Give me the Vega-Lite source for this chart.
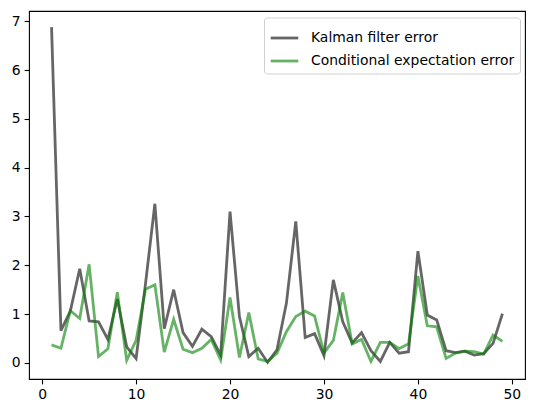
{
  "$schema": "https://vega.github.io/schema/vega-lite/v6.json",
  "width": 496,
  "height": 368,
  "autosize": {"type": "none"},
  "padding": {"left": 29, "top": 11, "right": 9, "bottom": 34},
  "background": "white",
  "config": {
    "view": {"stroke": "black", "strokeWidth": 1.1},
    "font": "DejaVu Sans",
    "axis": {
      "grid": false,
      "domain": false,
      "tickColor": "black",
      "tickWidth": 1.1,
      "tickSize": 4.9,
      "labelPadding": 4,
      "labelFont": "DejaVu Sans",
      "labelFontSize": 13.9,
      "labelColor": "black",
      "title": null
    }
  },
  "datasets": {
    "err": [
      {"x":1,"series":"Kalman filter error","value":6.88},
      {"x":2,"series":"Kalman filter error","value":0.66},
      {"x":3,"series":"Kalman filter error","value":1.06},
      {"x":4,"series":"Kalman filter error","value":1.93},
      {"x":5,"series":"Kalman filter error","value":0.86},
      {"x":6,"series":"Kalman filter error","value":0.84},
      {"x":7,"series":"Kalman filter error","value":0.48},
      {"x":8,"series":"Kalman filter error","value":1.31},
      {"x":9,"series":"Kalman filter error","value":0.33},
      {"x":10,"series":"Kalman filter error","value":0.09},
      {"x":11,"series":"Kalman filter error","value":1.62},
      {"x":12,"series":"Kalman filter error","value":3.26},
      {"x":13,"series":"Kalman filter error","value":0.7},
      {"x":14,"series":"Kalman filter error","value":1.5},
      {"x":15,"series":"Kalman filter error","value":0.62},
      {"x":16,"series":"Kalman filter error","value":0.34},
      {"x":17,"series":"Kalman filter error","value":0.69},
      {"x":18,"series":"Kalman filter error","value":0.54},
      {"x":19,"series":"Kalman filter error","value":0.16},
      {"x":20,"series":"Kalman filter error","value":3.1},
      {"x":21,"series":"Kalman filter error","value":0.95},
      {"x":22,"series":"Kalman filter error","value":0.13},
      {"x":23,"series":"Kalman filter error","value":0.3},
      {"x":24,"series":"Kalman filter error","value":0.01},
      {"x":25,"series":"Kalman filter error","value":0.27},
      {"x":26,"series":"Kalman filter error","value":1.22},
      {"x":27,"series":"Kalman filter error","value":2.9},
      {"x":28,"series":"Kalman filter error","value":0.52},
      {"x":29,"series":"Kalman filter error","value":0.6},
      {"x":30,"series":"Kalman filter error","value":0.15},
      {"x":31,"series":"Kalman filter error","value":1.7},
      {"x":32,"series":"Kalman filter error","value":0.84},
      {"x":33,"series":"Kalman filter error","value":0.41},
      {"x":34,"series":"Kalman filter error","value":0.62},
      {"x":35,"series":"Kalman filter error","value":0.25},
      {"x":36,"series":"Kalman filter error","value":0.03},
      {"x":37,"series":"Kalman filter error","value":0.42},
      {"x":38,"series":"Kalman filter error","value":0.2},
      {"x":39,"series":"Kalman filter error","value":0.23},
      {"x":40,"series":"Kalman filter error","value":2.29},
      {"x":41,"series":"Kalman filter error","value":0.98},
      {"x":42,"series":"Kalman filter error","value":0.88},
      {"x":43,"series":"Kalman filter error","value":0.25},
      {"x":44,"series":"Kalman filter error","value":0.21},
      {"x":45,"series":"Kalman filter error","value":0.24},
      {"x":46,"series":"Kalman filter error","value":0.16},
      {"x":47,"series":"Kalman filter error","value":0.19},
      {"x":48,"series":"Kalman filter error","value":0.4},
      {"x":49,"series":"Kalman filter error","value":1.01},
      {"x":1,"series":"Conditional expectation error","value":0.37},
      {"x":2,"series":"Conditional expectation error","value":0.3},
      {"x":3,"series":"Conditional expectation error","value":1.07},
      {"x":4,"series":"Conditional expectation error","value":0.91},
      {"x":5,"series":"Conditional expectation error","value":2.02},
      {"x":6,"series":"Conditional expectation error","value":0.13},
      {"x":7,"series":"Conditional expectation error","value":0.29},
      {"x":8,"series":"Conditional expectation error","value":1.45},
      {"x":9,"series":"Conditional expectation error","value":0.05},
      {"x":10,"series":"Conditional expectation error","value":0.46},
      {"x":11,"series":"Conditional expectation error","value":1.51},
      {"x":12,"series":"Conditional expectation error","value":1.6},
      {"x":13,"series":"Conditional expectation error","value":0.22},
      {"x":14,"series":"Conditional expectation error","value":0.89},
      {"x":15,"series":"Conditional expectation error","value":0.28},
      {"x":16,"series":"Conditional expectation error","value":0.21},
      {"x":17,"series":"Conditional expectation error","value":0.3},
      {"x":18,"series":"Conditional expectation error","value":0.48},
      {"x":19,"series":"Conditional expectation error","value":0.06},
      {"x":20,"series":"Conditional expectation error","value":1.34},
      {"x":21,"series":"Conditional expectation error","value":0.11},
      {"x":22,"series":"Conditional expectation error","value":1.03},
      {"x":23,"series":"Conditional expectation error","value":0.08},
      {"x":24,"series":"Conditional expectation error","value":0.03},
      {"x":25,"series":"Conditional expectation error","value":0.2},
      {"x":26,"series":"Conditional expectation error","value":0.64},
      {"x":27,"series":"Conditional expectation error","value":0.95},
      {"x":28,"series":"Conditional expectation error","value":1.06},
      {"x":29,"series":"Conditional expectation error","value":0.96},
      {"x":30,"series":"Conditional expectation error","value":0.2},
      {"x":31,"series":"Conditional expectation error","value":0.46},
      {"x":32,"series":"Conditional expectation error","value":1.44},
      {"x":33,"series":"Conditional expectation error","value":0.39},
      {"x":34,"series":"Conditional expectation error","value":0.48},
      {"x":35,"series":"Conditional expectation error","value":0.03},
      {"x":36,"series":"Conditional expectation error","value":0.42},
      {"x":37,"series":"Conditional expectation error","value":0.42},
      {"x":38,"series":"Conditional expectation error","value":0.29},
      {"x":39,"series":"Conditional expectation error","value":0.39},
      {"x":40,"series":"Conditional expectation error","value":1.78},
      {"x":41,"series":"Conditional expectation error","value":0.76},
      {"x":42,"series":"Conditional expectation error","value":0.74},
      {"x":43,"series":"Conditional expectation error","value":0.09},
      {"x":44,"series":"Conditional expectation error","value":0.2},
      {"x":45,"series":"Conditional expectation error","value":0.24},
      {"x":46,"series":"Conditional expectation error","value":0.23},
      {"x":47,"series":"Conditional expectation error","value":0.18},
      {"x":48,"series":"Conditional expectation error","value":0.57},
      {"x":49,"series":"Conditional expectation error","value":0.44}
    ]
  },
  "data": {"name": "err"},
  "encoding": {
    "x": {
      "field": "x",
      "type": "quantitative",
      "scale": {"domain": [-1.4, 51.4], "nice": false, "zero": false},
      "axis": {"values": [0, 10, 20, 30, 40, 50], "format": "d"}
    },
    "y": {
      "field": "value",
      "type": "quantitative",
      "scale": {"domain": [-0.33, 7.21], "nice": false, "zero": false},
      "axis": {"values": [0, 1, 2, 3, 4, 5, 6, 7], "format": "d"}
    },
    "color": {
      "field": "series",
      "type": "nominal",
      "scale": {
        "domain": ["Kalman filter error", "Conditional expectation error"],
        "range": ["#000000", "#008000"]
      },
      "legend": {
        "title": null,
        "orient": "none",
        "legendX": 235,
        "legendY": 6.5,
        "symbolType": "stroke",
        "symbolSize": 760,
        "symbolStrokeWidth": 2.8,
        "symbolOpacity": 0.6,
        "labelFont": "DejaVu Sans",
        "labelFontSize": 13.9,
        "labelColor": "black",
        "labelOffset": 11,
        "labelLimit": 0,
        "rowPadding": 0,
        "padding": 5,
        "strokeColor": "#d0d0d0",
        "fillColor": "white",
        "cornerRadius": 3
      }
    }
  },
  "layer": [
    {
      "transform": [{"filter": "datum.series === 'Kalman filter error'"}],
      "mark": {"type": "line", "strokeWidth": 2.8, "opacity": 0.6}
    },
    {
      "transform": [{"filter": "datum.series === 'Conditional expectation error'"}],
      "mark": {"type": "line", "strokeWidth": 2.8, "opacity": 0.6}
    }
  ]
}
